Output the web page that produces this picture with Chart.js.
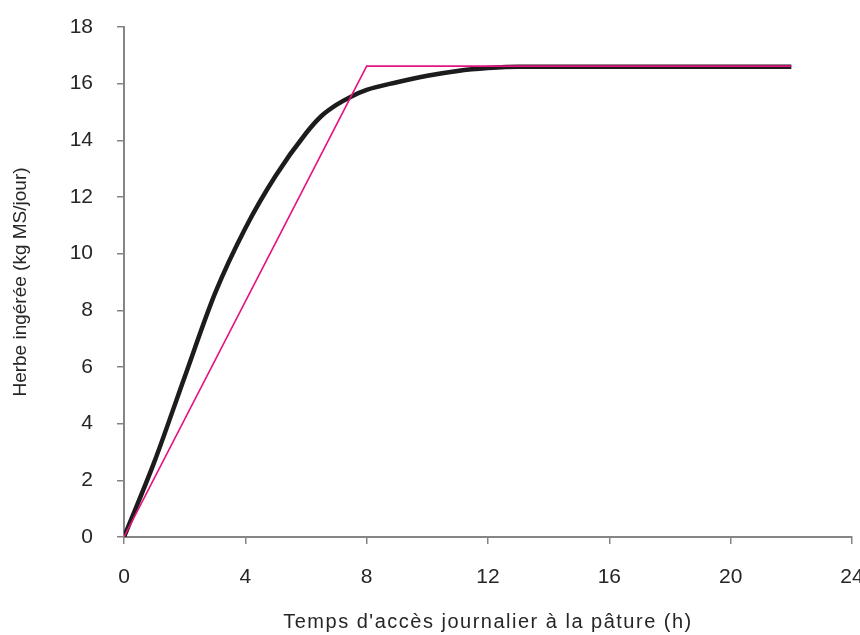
<!DOCTYPE html>
<html lang="fr">
<head>
<meta charset="UTF-8">
<title>Herbe ingérée</title>
<script src="https://cdn.jsdelivr.net/npm/chart.js"></script>
<style>
  html, body { margin: 0; padding: 0; background: #fff; }
  #chart { display: block; }
</style>
</head>
<body>
<canvas id="chart" width="860" height="635"></canvas>
<script>
// courbe mesurée (noire)
const curveX = [0, 1, 2, 3, 4, 5, 6, 6.5, 7, 7.5, 8, 9, 10, 11, 12, 13, 14, 16, 18, 20, 22];
const curveY = [0, 2.65, 5.65, 8.6, 10.9, 12.75, 14.25, 14.85, 15.25, 15.55, 15.78, 16.05, 16.28, 16.45, 16.55, 16.6, 16.6, 16.6, 16.6, 16.6, 16.6];

// modèle linéaire-plateau (magenta)
const modelX = [0, 8, 22];
const modelY = [0, 16.62, 16.62];

const xTicks = [0, 4, 8, 12, 16, 20, 24];
const yTicks = [0, 2, 4, 6, 8, 10, 12, 14, 16, 18];

const toPoints = (xs, ys) => xs.map((x, i) => ({ x: x, y: ys[i] }));

const axisGrey = '#858585';
const textColor = '#262626';
const tickFont = { family: 'Liberation Sans, Arial, sans-serif', size: 21 };

// le titre de l'axe x est un peu plus espacé dans l'original
const spacedTitle = {
    id: 'spacedTitle',
    beforeDraw(chart) {
        const s = chart.scales.x;
        if (s && !s._spaced) {
            const orig = s.drawTitle;
            s.drawTitle = function () {
                const c = this.ctx;
                const prev = c.letterSpacing;
                c.letterSpacing = '1.5px';
                orig.apply(this, arguments);
                c.letterSpacing = prev;
            };
            s._spaced = true;
        }
    }
};

new Chart(document.getElementById('chart'), {
    type: 'line',
    data: {
        datasets: [
            {
                label: 'modèle',
                data: toPoints(modelX, modelY),
                borderColor: '#e5147f',
                borderWidth: 1.6,
                pointRadius: 0,
                tension: 0
            },
            {
                label: 'observé',
                data: toPoints(curveX, curveY),
                borderColor: '#1c1c1c',
                borderWidth: 4.5,
                pointRadius: 0,
                cubicInterpolationMode: 'monotone'
            }
        ]
    },
    plugins: [spacedTitle],
    options: {
        responsive: false,
        animation: false,
        layout: { padding: { top: 27, right: 8, left: 0, bottom: 0 } },
        plugins: { legend: { display: false }, tooltip: { enabled: false } },
        scales: {
            x: {
                type: 'linear',
                min: 0, max: 24,
                afterBuildTicks: s => { s.ticks = xTicks.map(v => ({ value: v })); },
                afterFit: s => { s.height = 98; s.paddingRight = 0; s.paddingLeft = 0; },
                grid: { drawOnChartArea: false, color: axisGrey, tickLength: 7, lineWidth: 1.5 },
                border: { color: axisGrey, width: 2 },
                ticks: { color: textColor, font: tickFont, padding: 21, maxRotation: 0 },
                title: {
                    display: true,
                    text: "Temps d'accès journalier à la pâture (h)",
                    color: textColor,
                    font: { family: 'Liberation Sans, Arial, sans-serif', size: 20 },
                    padding: 1
                }
            },
            y: {
                min: 0, max: 18,
                afterBuildTicks: s => { s.ticks = yTicks.map(v => ({ value: v })); },
                afterFit: s => { s.width = 124; s.paddingTop = 0; s.paddingBottom = 0; },
                grid: { drawOnChartArea: false, color: axisGrey, tickLength: 7, lineWidth: 1.5 },
                border: { color: axisGrey, width: 2 },
                ticks: { color: textColor, font: tickFont, padding: 24 },
                title: {
                    display: true,
                    text: 'Herbe ingérée (kg MS/jour)',
                    color: textColor,
                    font: { family: 'Liberation Sans, Arial, sans-serif', size: 19 },
                    padding: 9
                }
            }
        }
    }
});
</script>
</body>
</html>
